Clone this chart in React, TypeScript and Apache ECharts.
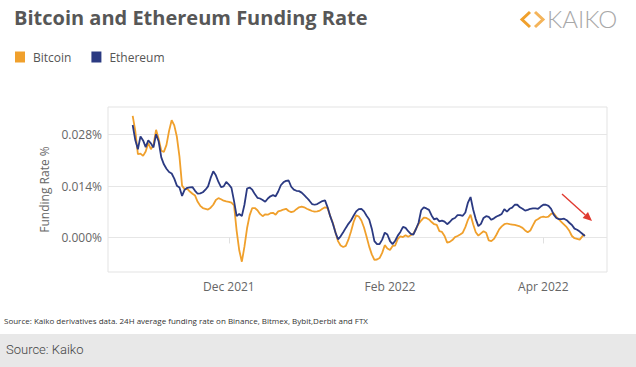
import React, { useEffect, useRef } from 'react';
import * as echarts from 'echarts';

// Daily series, first value on 25 Oct 2021 (UTC)
const startDateUTC = [2021, 9, 25];

const bitcoin = [
  0.0331, 0.0290, 0.0227, 0.0228, 0.0222, 0.0234, 0.0257, 0.0240, 0.0252, 0.0293,
  0.0268, 0.0236, 0.0233, 0.0252, 0.0290, 0.0319, 0.0305, 0.0274, 0.0220, 0.0141,
  0.0131, 0.0132, 0.0125, 0.0119, 0.0114, 0.0097, 0.0086, 0.0080, 0.0078, 0.0076,
  0.0081, 0.0089, 0.0102, 0.0107, 0.0104, 0.0100, 0.0098, 0.0097, 0.0095, 0.0087,
  0.0018, -0.0035, -0.0066, -0.0025, 0.0025, 0.0060, 0.0080, 0.0080, 0.0074, 0.0064,
  0.0058, 0.0063, 0.0062, 0.0066, 0.0067, 0.0062, 0.0071, 0.0073, 0.0076, 0.0078,
  0.0072, 0.0069, 0.0071, 0.0077, 0.0082, 0.0084, 0.0082, 0.0078, 0.0075, 0.0072,
  0.0070, 0.0071, 0.0073, 0.0078, 0.0082, 0.0080, 0.0058, 0.0040, 0.0015, -0.0010,
  -0.0022, -0.0026, -0.0023, -0.0006, 0.0016, 0.0042, 0.0060, 0.0057, 0.0046, 0.0027,
  0.0002, -0.0025, -0.0046, -0.0061, -0.0060, -0.0056, -0.0042, -0.0021, -0.0030, -0.0034,
  -0.0023, -0.0022, -0.0004, 0.0003, 0.0001, 0.0006, 0.0002, 0.0006, 0.0010, 0.0023,
  0.0037, 0.0046, 0.0054, 0.0053, 0.0049, 0.0042, 0.0036, 0.0034, 0.0017, 0.0015,
  0.0004, -0.0014, -0.0012, -0.0007, 0.0001, 0.0004, 0.0008, 0.0013, 0.0028, 0.0048,
  0.0062, 0.0036, 0.0014, 0.0005, 0.0011, 0.0017, 0.0013, -0.0008, -0.0010, -0.0004,
  0.0008, 0.0022, 0.0030, 0.0036, 0.0038, 0.0036, 0.0035, 0.0034, 0.0032, 0.0030,
  0.0026, 0.0019, 0.0014, 0.0019, 0.0033, 0.0046, 0.0050, 0.0055, 0.0057, 0.0055,
  0.0057, 0.0064, 0.0066, 0.0056, 0.0049, 0.0042, 0.0035, 0.0028, 0.0018, 0.0004,
  -0.0002, -0.0004, -0.0006, 0.0003, 0.0008,
];

const ethereum = [
  0.0306, 0.0265, 0.0240, 0.0275, 0.0264, 0.0246, 0.0264, 0.0256, 0.0245, 0.0281,
  0.0261, 0.0218, 0.0199, 0.0187, 0.0178, 0.0174, 0.0160, 0.0141, 0.0136, 0.0113,
  0.0130, 0.0135, 0.0136, 0.0137, 0.0127, 0.0119, 0.0120, 0.0123, 0.0130, 0.0139,
  0.0162, 0.0180, 0.0169, 0.0151, 0.0137, 0.0139, 0.0151, 0.0144, 0.0135, 0.0099,
  0.0058, 0.0064, 0.0058, 0.0089, 0.0133, 0.0136, 0.0130, 0.0118, 0.0108, 0.0106,
  0.0102, 0.0097, 0.0106, 0.0112, 0.0115, 0.0112, 0.0125, 0.0142, 0.0150, 0.0154,
  0.0155, 0.0138, 0.0130, 0.0127, 0.0126, 0.0122, 0.0115, 0.0108, 0.0100, 0.0091,
  0.0089, 0.0091, 0.0095, 0.0099, 0.0101, 0.0082, 0.0058, 0.0038, 0.0014, -0.0005,
  0.0003, 0.0014, 0.0026, 0.0037, 0.0046, 0.0059, 0.0071, 0.0077, 0.0078, 0.0071,
  0.0059, 0.0049, 0.0024, -0.0010, -0.0018, -0.0018, -0.0006, 0.0013, 0.0008, -0.0010,
  -0.0018, -0.0009, 0.0005, 0.0015, 0.0029, 0.0026, 0.0017, 0.0010, 0.0008, 0.0023,
  0.0040, 0.0074, 0.0082, 0.0079, 0.0075, 0.0060, 0.0049, 0.0052, 0.0044, 0.0046,
  0.0043, 0.0036, 0.0042, 0.0050, 0.0053, 0.0061, 0.0061, 0.0059, 0.0068, 0.0095,
  0.0110, 0.0076, 0.0050, 0.0031, 0.0037, 0.0053, 0.0058, 0.0056, 0.0048, 0.0052,
  0.0057, 0.0060, 0.0064, 0.0077, 0.0070, 0.0078, 0.0081, 0.0089, 0.0089, 0.0082,
  0.0078, 0.0073, 0.0075, 0.0078, 0.0079, 0.0079, 0.0078, 0.0084, 0.0089, 0.0089,
  0.0086, 0.0078, 0.0062, 0.0053, 0.0050, 0.0050, 0.0051, 0.0047, 0.0040, 0.0034,
  0.0024, 0.0021, 0.0016, 0.0010, 0.0004,
];

const seriesNames = ['Bitcoin', 'Ethereum'];
const seriesColors = ['#f0a02c', '#2b3a82'];
const xTickDates = [
  [2021, 11, 1],
  [2022, 1, 1],
  [2022, 3, 1],
];
const xTickLabels = ['Dec 2021', 'Feb 2022', 'Apr 2022'];
const yTickValues = [0, 0.014, 0.028];

const DAY = 86400000;

export default function App() {
  const ref = useRef<HTMLDivElement>(null);

  useEffect(() => {
    if (!ref.current) return;
    const chart = echarts.init(ref.current, null, { renderer: 'svg' });
    const t0 = Date.UTC(startDateUTC[0], startDateUTC[1], startDateUTC[2]);
    const toData = (arr: number[]) => arr.map((v, i) => [t0 + i * DAY, v]);
    const tickTimes = xTickDates.map((d) => Date.UTC(d[0], d[1], d[2]));
    const font = '"Open Sans", "Noto Sans", sans-serif';

    const arrowTip = [592, 221];
    const arrowStart = [562, 194];
    const dx = arrowTip[0] - arrowStart[0];
    const dy = arrowTip[1] - arrowStart[1];
    const len = Math.sqrt(dx * dx + dy * dy);
    const ux = dx / len;
    const uy = dy / len;
    const hb = [arrowTip[0] - 9 * ux, arrowTip[1] - 9 * uy];

    chart.setOption({
      animation: false,
      backgroundColor: '#ffffff',
      grid: {
        left: 108,
        right: 29,
        top: 107,
        bottom: 95,
        show: true,
        borderColor: '#e3e3e3',
        borderWidth: 1,
        backgroundColor: 'transparent',
      },
      legend: {
        left: 10,
        top: 46,
        icon: 'rect',
        itemWidth: 10,
        itemHeight: 11,
        itemGap: 20,
        textStyle: { fontFamily: font, fontSize: 12, color: '#555555', padding: [0, 0, 0, 3] },
        data: seriesNames,
      },
      xAxis: {
        type: 'value',
        min: Date.UTC(2021, 9, 15, 12),
        max: Date.UTC(2022, 3, 25, 12),
        axisLine: { show: false },
        axisTick: {
          show: true,
          customValues: tickTimes,
          length: 6,
          lineStyle: { color: '#e0e0e0' },
        },
        axisLabel: {
          customValues: tickTimes,
          margin: 8,
          fontFamily: font,
          fontSize: 12,
          color: '#666666',
          formatter: (v: number) => {
            const idx = tickTimes.findIndex((t) => Math.abs(t - v) < DAY / 2);
            return idx >= 0 ? xTickLabels[idx] : '';
          },
        },
        splitLine: { show: false },
      },
      yAxis: {
        type: 'value',
        min: -0.0094,
        max: 0.0355,
        name: 'Funding Rate %',
        nameLocation: 'middle',
        nameGap: 58,
        nameTextStyle: { fontFamily: font, fontSize: 12, color: '#666666' },
        axisLine: { show: false },
        axisTick: { show: false, customValues: yTickValues },
        axisLabel: {
          customValues: yTickValues,
          margin: 6,
          fontFamily: font,
          fontSize: 12,
          color: '#666666',
          formatter: (v: number) => v.toFixed(3) + '%',
        },
        splitLine: { show: true, lineStyle: { color: '#e6e6e6', width: 1 } },
      },
      series: [
        {
          name: seriesNames[0],
          type: 'line',
          data: toData(bitcoin),
          showSymbol: false,
          symbol: 'none',
          lineStyle: { color: seriesColors[0], width: 1.8 },
          itemStyle: { color: seriesColors[0] },
        },
        {
          name: seriesNames[1],
          type: 'line',
          data: toData(ethereum),
          showSymbol: false,
          symbol: 'none',
          lineStyle: { color: seriesColors[1], width: 1.8 },
          itemStyle: { color: seriesColors[1] },
        },
      ],
      graphic: [
        {
          type: 'text',
          left: 14,
          top: 7,
          style: {
            text: 'Bitcoin and Ethereum Funding Rate',
            font: 'bold 20px "Open Sans", sans-serif',
            fill: '#575757',
          },
        },
        {
          type: 'polyline',
          shape: { points: [[530, 12], [522, 19.5], [530, 27]] },
          style: { stroke: '#f0a02c', lineWidth: 3, fill: null },
        },
        {
          type: 'polyline',
          shape: { points: [[535, 12], [543, 19.5], [535, 27]] },
          style: { stroke: '#f4b45a', lineWidth: 3, fill: null },
        },
        {
          type: 'text',
          left: 547,
          top: 6,
          style: {
            text: 'KAIKO',
            font: '300 24px Lato, sans-serif',
            fill: '#a8a8a8',
          },
        },
        {
          type: 'line',
          shape: { x1: arrowStart[0], y1: arrowStart[1], x2: hb[0], y2: hb[1] },
          style: { stroke: '#e03a30', lineWidth: 1.4 },
        },
        {
          type: 'polygon',
          shape: {
            points: [
              arrowTip,
              [hb[0] - 4 * uy, hb[1] + 4 * ux],
              [hb[0] + 4 * uy, hb[1] - 4 * ux],
            ],
          },
          style: { fill: '#e03a30' },
        },
        {
          type: 'text',
          left: 4,
          top: 316,
          style: {
            text: 'Source: Kaiko derivatives data. 24H average funding rate on Binance, Bitmex, Bybit,Derbit and FTX',
            font: '8px "Open Sans", sans-serif',
            fill: '#333333',
          },
        },
        {
          type: 'rect',
          left: 0,
          top: 334,
          shape: { width: 636, height: 33 },
          style: { fill: '#e8e8e8' },
        },
        {
          type: 'text',
          left: 6,
          top: 343,
          style: {
            text: 'Source: Kaiko',
            font: '300 13px Roboto, sans-serif',
            fill: '#444444',
          },
        },
      ],
    });
    return () => chart.dispose();
  }, []);

  return (
    <div
      ref={ref}
      style={{ position: 'fixed', left: 0, top: 0, width: 636, height: 367, background: '#fff' }}
    />
  );
}
